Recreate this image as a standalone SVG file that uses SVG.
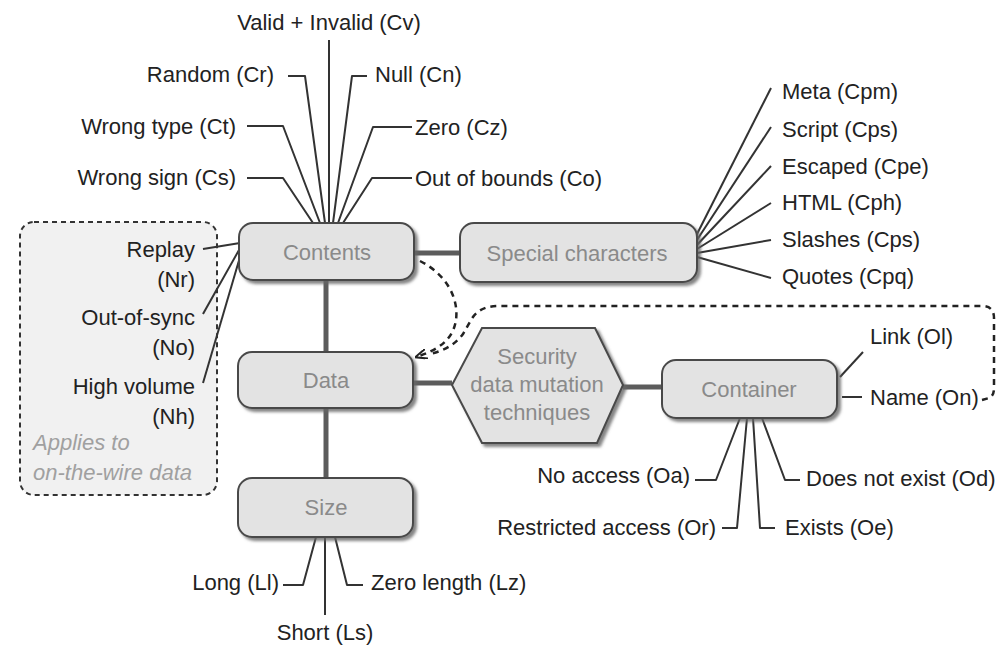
<svg xmlns="http://www.w3.org/2000/svg" width="1002" height="646" viewBox="0 0 1002 646">
  <style>
    text { font-family: "Liberation Sans", Arial, Helvetica, sans-serif; font-size: 22px; fill: #222; }
    .node { fill: #e3e3e3; stroke: #4a4a4a; stroke-width: 2; filter: url(#shadow); }
    .ntext { fill: #8a8a8a; text-anchor: middle; }
    .main { stroke: #5c5c5c; stroke-width: 5; fill: none; }
    .leaf { stroke: #333; stroke-width: 2; fill: none; stroke-linejoin: round; }
    .dash { stroke: #222; stroke-width: 2.5; fill: none; stroke-dasharray: 6 5; }
    .end { text-anchor: end; }
    .mid { text-anchor: middle; }
    .note { font-style: italic; fill: #a0a0a0; }
  </style>
  <defs>
    <filter id="shadow" x="-10%" y="-10%" width="130%" height="140%">
      <feDropShadow dx="3" dy="3" stdDeviation="1.5" flood-color="#666" flood-opacity="0.8"/>
    </filter>
    <marker id="arrow" viewBox="0 0 12 10" refX="11" refY="5" markerWidth="12" markerHeight="10" markerUnits="userSpaceOnUse" orient="auto">
      <path d="M0,0 L12,5 L0,10" fill="none" stroke="#222" stroke-width="2"/>
    </marker>
  </defs>
  <rect width="1002" height="646" fill="#fff"/>

  <!-- on-the-wire area -->
  <g id="wire-area">
    <rect x="20" y="222" width="197" height="273" rx="14" fill="#f1f1f1" stroke="#333" stroke-width="2" stroke-dasharray="5 4"/>
    <text class="end" x="195" y="257">Replay</text>
    <text class="end" x="195" y="287">(Nr)</text>
    <text class="end" x="195" y="325">Out-of-sync</text>
    <text class="end" x="195" y="355">(No)</text>
    <text class="end" x="195" y="394">High volume</text>
    <text class="end" x="195" y="424">(Nh)</text>
    <text class="note" x="33" y="450">Applies to</text>
    <text class="note" x="33" y="480">on-the-wire data</text>
  </g>

  <!-- connectors -->
  <g id="connectors">
    <line class="main" x1="326" y1="280" x2="326" y2="352"/>
    <line class="main" x1="326" y1="408" x2="326" y2="478"/>
    <line class="main" x1="414" y1="253" x2="460" y2="253"/>
    <line class="main" x1="413" y1="383" x2="452" y2="383"/>
    <line class="main" x1="623" y1="387" x2="662" y2="387"/>

    <!-- Contents leaves -->
    <polyline class="leaf" points="329,40 329,223"/>
    <polyline class="leaf" points="288,76 305,76 325,223"/>
    <polyline class="leaf" points="367,76 352,76 333,223"/>
    <polyline class="leaf" points="247,126 283,126 320,223"/>
    <polyline class="leaf" points="412,127 373,127 338,223"/>
    <polyline class="leaf" points="247,178 283,178 313,223"/>
    <polyline class="leaf" points="412,178 372,178 343,223"/>
    <polyline class="leaf" points="203,249 240,243"/>
    <polyline class="leaf" points="203,314 239,250"/>
    <polyline class="leaf" points="203,383 240,257"/>

    <!-- Special character leaves -->
    <polyline class="leaf" points="694,240 771,88"/>
    <polyline class="leaf" points="695,243 771,127"/>
    <polyline class="leaf" points="696,246 771,166"/>
    <polyline class="leaf" points="697,249 771,203"/>
    <polyline class="leaf" points="697,253 771,240"/>
    <polyline class="leaf" points="697,257 771,278"/>

    <!-- Size leaves -->
    <polyline class="leaf" points="283,585 303,585 316,537"/>
    <polyline class="leaf" points="325,537 325,615"/>
    <polyline class="leaf" points="363,585 347,585 335,537"/>

    <!-- Container leaves -->
    <polyline class="leaf" points="695,480 716,480 740,418"/>
    <polyline class="leaf" points="722,528 737,528 747,418"/>
    <polyline class="leaf" points="775,528 760,528 753,418"/>
    <polyline class="leaf" points="800,480 785,480 762,418"/>
    <polyline class="leaf" points="840,377 863,352"/>
    <polyline class="leaf" points="842,397 862,397"/>

    <!-- dashed links back to Data -->
    <path class="dash" d="M420,261 C446,274 459,298 456,320 C453,340 438,350 416,357" marker-end="url(#arrow)"/>
    <path class="dash" d="M982,400 L989,398 Q994,396 994,388 L994,318 Q994,306 982,306 L498,306 Q479,306 471,320 L463,334 Q452,349 430,354"/>
  </g>

  <g id="contents">
    <rect class="node" x="239" y="223" width="175" height="57" rx="14"/>
    <text class="ntext" x="327" y="260">Contents</text>
  </g>
  <g id="special-characters">
    <rect class="node" x="460" y="223" width="237" height="59" rx="14"/>
    <text class="ntext" x="577" y="261">Special characters</text>
  </g>
  <g id="data">
    <rect class="node" x="238" y="352" width="175" height="56" rx="14"/>
    <text class="ntext" x="326" y="388">Data</text>
  </g>
  <g id="size">
    <rect class="node" x="238" y="478" width="175" height="59" rx="14"/>
    <text class="ntext" x="326" y="515">Size</text>
  </g>
  <g id="mutation-techniques">
    <polygon class="node" points="452,385 482,328 595,328 623,385 597,443 482,443"/>
    <text class="ntext" x="537" y="364">Security</text>
    <text class="ntext" x="537" y="392">data mutation</text>
    <text class="ntext" x="537" y="420">techniques</text>
  </g>
  <g id="container">
    <rect class="node" x="662" y="360" width="175" height="58" rx="14"/>
    <text class="ntext" x="749" y="397">Container</text>
  </g>

  <!-- leaf labels -->
  <g id="content-labels">
    <text class="mid" x="329" y="30">Valid + Invalid (Cv)</text>
    <text class="end" x="274" y="82">Random (Cr)</text>
    <text x="375" y="82">Null (Cn)</text>
    <text class="end" x="236" y="134">Wrong type (Ct)</text>
    <text x="415" y="135">Zero (Cz)</text>
    <text class="end" x="236" y="185">Wrong sign (Cs)</text>
    <text x="415" y="186">Out of bounds (Co)</text>
  </g>
  <g id="special-labels">
    <text x="782" y="99">Meta (Cpm)</text>
    <text x="782" y="137">Script (Cps)</text>
    <text x="782" y="174">Escaped (Cpe)</text>
    <text x="782" y="210">HTML (Cph)</text>
    <text x="782" y="247">Slashes (Cps)</text>
    <text x="782" y="284">Quotes (Cpq)</text>
  </g>
  <g id="size-labels">
    <text class="end" x="279" y="590">Long (Ll)</text>
    <text class="mid" x="325" y="640">Short (Ls)</text>
    <text x="371" y="590">Zero length (Lz)</text>
  </g>
  <g id="container-labels">
    <text x="870" y="344">Link (Ol)</text>
    <text x="870" y="405">Name (On)</text>
    <text class="end" x="690" y="483">No access (Oa)</text>
    <text class="end" x="716" y="535">Restricted access (Or)</text>
    <text x="785" y="535">Exists (Oe)</text>
    <text x="806" y="486">Does not exist (Od)</text>
  </g>
</svg>
